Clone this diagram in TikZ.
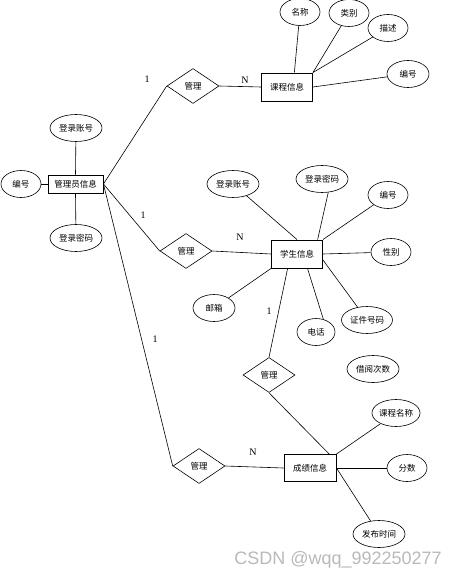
\documentclass[tikz,border=0pt]{standalone}
\usepackage{fontspec}
\setmainfont{Liberation Serif}
\setsansfont{Liberation Sans}
\newfontfamily\cjk{Noto Sans CJK SC}
\usetikzlibrary{shapes.geometric}
\definecolor{wmgray}{RGB}{185,185,185}
\tikzset{
  entity/.style={draw, line width=0.9pt, minimum width=51pt, minimum height=28pt,
                 inner sep=0pt, font=\cjk\fontsize{8.5}{10}\selectfont},
  attr/.style={draw, ellipse, line width=0.6pt, minimum height=27pt, inner sep=0pt,
               font=\cjk\fontsize{8.5}{10}\selectfont},
  rel/.style={draw, diamond, line width=0.6pt, minimum width=52pt, minimum height=35pt,
              inner sep=0pt, font=\cjk\fontsize{8.5}{10}\selectfont},
  card/.style={inner sep=0pt, font=\fontsize{10}{12}\selectfont},
  link/.style={line width=0.6pt}
}

\begin{document}
\begin{tikzpicture}[x=1pt, y=-1pt]
\useasboundingbox (0,0) rectangle (461,580);
% entities
\node[entity, minimum width=55pt, minimum height=18pt] (adm) at (75.5,184) {管理员信息};
\node[entity] (course) at (287,87) {课程信息};
\node[entity] (stu) at (297,254) {学生信息};
\node[entity, minimum width=52pt, minimum height=27pt] (grade) at (310,468) {成绩信息};
% relations
\node[rel] (d1) at (193,86) {管理};
\node[rel] (d2) at (186,251) {管理};
\node[rel] (d3) at (269,375) {管理};
\node[rel] (d4) at (199,466) {管理};
% attributes
\foreach \n/\x/\y/\w/\t in {a-no/21/184/40/编号, a-acc/76/128/52/登录账号, a-pwd/76/238/52/登录密码,
    c-name/300/12/40/名称, c-type/349/13/40/类别, c-desc/388/28/40/描述, c-no/408/74/42/编号,
    s-acc/233/184/52/登录账号, s-pwd/322/179/52/登录密码, s-no/388/195/40/编号,
    s-sex/391/252/40/性别, s-id/367/320/51/证件号码, s-tel/316/332/38/电话,
    s-mail/214/308/42/邮箱, s-cnt/373/369/52/借阅次数,
    g-cname/396/413/46/课程名称, g-score/407/468/40/分数, g-time/379/534/52/发布时间} {
  \node[attr, minimum width=\w pt] (\n) at (\x,\y) {\t};
}
% attribute links
\foreach \a/\b in {a-no/adm.west, a-acc/adm.north, a-pwd/adm.south,
    c-name/course.63, c-type/course.north east, c-desc/course.north east, c-no/course.east,
    s-acc/stu.north, s-no/stu.north east, s-sex/stu.east, s-id/stu.-13,
    s-mail/stu.south west, g-cname/grade.north east, g-score/grade.east, g-time/grade.east} {
  \draw[link] (\a) -- (\b);
}
\draw[link] (s-pwd.-65) -- (stu.35);
\draw[link] (s-tel.60) -- (stu.-54);
% relation links
\draw[link] (adm.east) -- (d1.west);
\draw[link] (d1.east) -- (course.west);
\draw[link] (adm.east) -- (d2.west);
\draw[link] (d2.east) -- (stu.west);
\draw[link] (adm.east) -- (d4.west);
\draw[link] (d4.east) -- (grade.west);
\draw[link] (stu.-123) -- (d3.north);
\draw[link] (d3.south) -- (grade.36);
% cardinalities
\node[card] (k1) at (147,79) {1};
\node[card] (k2) at (143,215) {1};
\node[card] (k3) at (155,339) {1};
\node[card] (k4) at (269,311) {1};
\node[card] (n1) at (245,80) {N};
\node[card] (n2) at (240,237) {N};
\node[card] (n3) at (253,452) {N};
% watermark
\node[inner sep=0pt, text=wmgray, font=\sffamily\fontsize{18}{20}\selectfont] (wmark) at (338,560) {CSDN @wqq\_992250277};
\end{tikzpicture}
\end{document}
